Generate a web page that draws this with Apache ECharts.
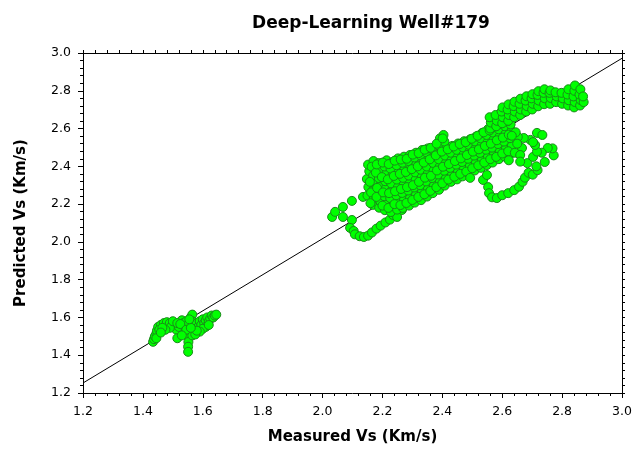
<!DOCTYPE html>
<html><head><meta charset="utf-8">
<script src="https://cdn.jsdelivr.net/npm/echarts@6/dist/echarts.min.js"></script>
<style>html,body{margin:0;padding:0;background:#fff}#c{width:644px;height:452px}</style>
</head><body><div id="c"></div>
<script>
const titleText = 'Deep-Learning Well#179';
const xName = 'Measured Vs (Km/s)';
const yName = 'Predicted Vs (Km/s)';
const axisMin = 1.2, axisMax = 3.0, axisStep = 0.2;
const fitLineX = [1.2, 3.0];
const fitLineY = [1.253, 2.972];

const lowCluster = [
[1.434,1.471],[1.437,1.485],[1.440,1.500],[1.445,1.515],[1.447,1.530],[1.451,1.550],[1.460,1.560],[1.470,1.570],
[1.480,1.575],[1.490,1.570],[1.500,1.565],[1.505,1.550],[1.512,1.535],[1.520,1.550],[1.530,1.585],[1.535,1.570],
[1.540,1.550],[1.545,1.580],[1.550,1.560],[1.552,1.520],[1.553,1.495],[1.552,1.470],[1.551,1.445],[1.551,1.418],
[1.560,1.600],[1.565,1.615],[1.565,1.580],[1.570,1.550],[1.575,1.530],[1.580,1.570],[1.585,1.550],[1.590,1.580],
[1.595,1.560],[1.600,1.590],[1.605,1.570],[1.610,1.585],[1.615,1.600],[1.620,1.580],[1.625,1.595],[1.630,1.610],
[1.635,1.600],[1.640,1.610],[1.645,1.615],[1.610,1.550],[1.600,1.540],[1.590,1.525],[1.620,1.560],[1.565,1.505],
[1.575,1.510],[1.580,1.530],[1.490,1.545],[1.475,1.535],[1.455,1.535],[1.465,1.545],[1.445,1.490],[1.460,1.520],
[1.500,1.580],[1.515,1.570],[1.525,1.565],[1.545,1.535],[1.560,1.545],[1.555,1.590],[1.515,1.490],[1.530,1.505]
];

const isolatedLeft = [
[2.032,2.132],[2.042,2.159],[2.068,2.185],[2.068,2.132],[2.098,2.217],[2.135,2.238]
];

const lowerLoop = [
[2.098,2.116],[2.092,2.074],[2.104,2.058],[2.108,2.040],[2.124,2.030],[2.138,2.026],[2.152,2.033],[2.165,2.050],
[2.180,2.070],[2.194,2.086],[2.210,2.103],[2.225,2.118],[2.235,2.143],[2.242,2.166],[2.265,2.169],[2.249,2.132]
];

const mainBand = [
[2.150,2.245],[2.153,2.290],[2.148,2.333],[2.156,2.374],[2.152,2.409],
[2.168,2.196],[2.171,2.229],[2.166,2.269],[2.173,2.312],[2.169,2.351],[2.174,2.392],[2.170,2.428],
[2.189,2.181],[2.193,2.215],[2.186,2.254],[2.191,2.297],[2.188,2.338],[2.194,2.380],[2.187,2.417],
[2.208,2.168],[2.212,2.204],[2.206,2.242],[2.211,2.281],[2.209,2.321],[2.213,2.362],[2.207,2.399],[2.214,2.432],
[2.228,2.158],[2.232,2.193],[2.226,2.232],[2.231,2.272],[2.229,2.310],[2.233,2.351],[2.227,2.388],[2.232,2.421],
[2.249,2.171],[2.252,2.209],[2.246,2.247],[2.251,2.288],[2.248,2.330],[2.253,2.367],[2.247,2.406],[2.252,2.442],
[2.268,2.180],[2.272,2.221],[2.266,2.259],[2.271,2.301],[2.269,2.339],[2.273,2.380],[2.267,2.419],[2.272,2.451],
[2.289,2.192],[2.292,2.231],[2.286,2.272],[2.291,2.309],[2.288,2.351],[2.293,2.389],[2.287,2.428],[2.292,2.460],
[2.308,2.208],[2.312,2.249],[2.306,2.288],[2.311,2.329],[2.309,2.368],[2.313,2.409],[2.307,2.447],[2.312,2.472],
[2.329,2.221],[2.332,2.262],[2.326,2.300],[2.331,2.341],[2.328,2.382],[2.333,2.421],[2.327,2.458],[2.332,2.486],
[2.349,2.240],[2.352,2.279],[2.346,2.320],[2.351,2.361],[2.348,2.399],[2.353,2.438],[2.347,2.474],[2.352,2.495],
[2.368,2.258],[2.372,2.298],[2.366,2.338],[2.371,2.377],[2.369,2.418],[2.373,2.457],[2.367,2.492],
[2.389,2.276],[2.392,2.318],[2.386,2.357],[2.391,2.398],[2.388,2.437],[2.393,2.478],[2.387,2.512],[2.392,2.548],
[2.408,2.298],[2.412,2.336],[2.406,2.377],[2.411,2.416],[2.409,2.457],[2.413,2.495],[2.407,2.531],[2.404,2.566],
[2.429,2.318],[2.432,2.352],[2.426,2.392],[2.431,2.433],[2.428,2.472],[2.433,2.508],
[2.449,2.331],[2.452,2.369],[2.446,2.409],[2.451,2.448],[2.448,2.487],[2.453,2.521],
[2.468,2.347],[2.472,2.384],[2.466,2.423],[2.471,2.462],[2.469,2.500],[2.473,2.533],
[2.489,2.361],[2.492,2.401],[2.486,2.440],[2.491,2.478],[2.488,2.514],[2.493,2.543],
[2.508,2.378],[2.512,2.418],[2.506,2.457],[2.511,2.496],[2.509,2.532],[2.513,2.558],
[2.529,2.392],[2.532,2.431],[2.526,2.471],[2.531,2.510],[2.528,2.548],[2.533,2.577],
[2.549,2.407],[2.552,2.448],[2.546,2.488],[2.551,2.527],[2.548,2.566],[2.553,2.597],
[2.568,2.420],[2.572,2.461],[2.566,2.499],[2.571,2.540],[2.569,2.579],[2.573,2.609],
[2.589,2.438],[2.592,2.477],[2.586,2.518],[2.591,2.557],[2.588,2.596],[2.593,2.624],
[2.608,2.452],[2.612,2.492],[2.606,2.531],[2.611,2.572],[2.609,2.612],[2.613,2.638],
[2.629,2.468],[2.632,2.508],[2.626,2.549],[2.631,2.588],[2.628,2.622]
];

const bandFill = [
[2.160,2.205],[2.162,2.262],[2.158,2.318],[2.164,2.398],
[2.180,2.238],[2.182,2.286],[2.178,2.367],[2.181,2.410],
[2.200,2.192],[2.202,2.262],[2.198,2.343],[2.201,2.420],
[2.220,2.180],[2.222,2.258],[2.218,2.331],[2.221,2.412],
[2.240,2.200],[2.242,2.268],[2.238,2.349],[2.241,2.430],
[2.260,2.195],[2.262,2.280],[2.258,2.360],[2.261,2.436],
[2.280,2.206],[2.282,2.290],[2.278,2.370],[2.281,2.440],
[2.300,2.222],[2.302,2.300],[2.298,2.385],[2.301,2.462],
[2.320,2.238],[2.322,2.318],[2.318,2.400],[2.321,2.470],
[2.340,2.252],[2.342,2.340],[2.338,2.420],[2.341,2.488],
[2.360,2.270],[2.362,2.350],[2.358,2.437],[2.361,2.498],
[2.380,2.290],[2.382,2.378],[2.378,2.458],[2.381,2.520],
[2.400,2.310],[2.402,2.398],[2.398,2.478],[2.401,2.548],
[2.420,2.330],[2.422,2.412],[2.418,2.490],
[2.440,2.345],[2.442,2.428],[2.438,2.505],
[2.460,2.360],[2.462,2.442],[2.458,2.518],
[2.480,2.372],[2.482,2.460],[2.478,2.528],
[2.500,2.390],[2.502,2.478],[2.498,2.546],
[2.520,2.405],[2.522,2.490],[2.518,2.562],
[2.540,2.420],[2.542,2.508],[2.538,2.580],
[2.560,2.438],[2.562,2.520],[2.558,2.590],
[2.580,2.450],[2.582,2.538],[2.578,2.612],
[2.600,2.468],[2.602,2.552],[2.598,2.628],
[2.620,2.480],[2.622,2.568],[2.618,2.640]
];

const rightArc = [
[2.493,2.339],[2.536,2.328],[2.549,2.354],[2.553,2.290],[2.556,2.258],[2.566,2.236],[2.582,2.232],[2.600,2.247],
[2.620,2.258],[2.640,2.274],[2.656,2.292],[2.668,2.318],[2.676,2.340],[2.688,2.366],[2.702,2.356],[2.718,2.380],
[2.684,2.417],[2.714,2.400],[2.742,2.423],[2.772,2.458],[2.768,2.495],[2.752,2.497],[2.732,2.472],[2.703,2.450],
[2.716,2.478],[2.710,2.513],[2.694,2.540],[2.672,2.550],[2.652,2.556],[2.703,2.528],[2.716,2.577],[2.734,2.566],
[2.666,2.497],[2.642,2.472],[2.650,2.520],[2.660,2.460],[2.645,2.580],[2.632,2.562],[2.622,2.432],[2.660,2.425]
];

const upperStrip = [
[2.560,2.600],[2.562,2.632],[2.558,2.660],
[2.580,2.612],[2.582,2.641],[2.578,2.672],
[2.600,2.628],[2.602,2.660],[2.598,2.690],[2.601,2.712],
[2.620,2.641],[2.622,2.672],[2.618,2.701],[2.621,2.728],
[2.640,2.660],[2.642,2.690],[2.638,2.719],[2.641,2.742],
[2.660,2.672],[2.662,2.701],[2.658,2.731],[2.661,2.758],
[2.680,2.690],[2.682,2.719],[2.678,2.748],[2.681,2.771],
[2.700,2.701],[2.702,2.731],[2.698,2.760],[2.701,2.782],
[2.720,2.718],[2.722,2.748],[2.718,2.778],[2.721,2.798],
[2.740,2.729],[2.742,2.760],[2.738,2.789],[2.741,2.808],
[2.760,2.731],[2.762,2.762],[2.758,2.789],[2.761,2.802],
[2.780,2.740],[2.782,2.770],[2.778,2.792],
[2.800,2.731],[2.802,2.760],[2.798,2.789],
[2.820,2.722],[2.822,2.750],[2.818,2.780],[2.821,2.808],
[2.840,2.712],[2.842,2.741],[2.838,2.770],[2.841,2.800],[2.843,2.828],
[2.860,2.722],[2.862,2.751],[2.858,2.780],[2.861,2.808],
[2.872,2.740],[2.870,2.770]
];

const scatterData = [].concat(lowCluster, isolatedLeft, lowerLoop, mainBand, bandFill, rightArc, upperStrip);
const lineData = fitLineX.map((x, i) => [x, fitLineY[i]]);

const chart = echarts.init(document.getElementById('c'), null, {renderer: 'canvas'});
const FONT = 'DejaVu Sans';
function frameAxis(pos, showLabel, tickLen, minorLen) {
  return {
    type: 'value', min: axisMin, max: axisMax, interval: axisStep, position: pos,
    axisLine: {show: true, onZero: false, lineStyle: {color: '#000', width: 1}},
    axisTick: {show: true, inside: false, length: tickLen, lineStyle: {color: '#000', width: 1}},
    minorTick: {show: true, splitNumber: 5, length: minorLen, lineStyle: {color: '#000', width: 1}},
    axisLabel: {show: showLabel, margin: 12, fontFamily: FONT, fontSize: 12.5, color: '#000',
      formatter: v => Number(v).toFixed(1)},
    splitLine: {show: false}, minorSplitLine: {show: false}
  };
}
const xBottom = frameAxis('bottom', true, 5, 3);
xBottom.name = xName; xBottom.nameLocation = 'middle'; xBottom.nameGap = 37;
xBottom.nameTextStyle = {fontFamily: FONT, fontWeight: 'bold', fontSize: 15, color: '#000'};
const yLeft = frameAxis('left', true, 5, 3);
yLeft.name = yName; yLeft.nameLocation = 'middle'; yLeft.nameGap = 54;
yLeft.nameTextStyle = {fontFamily: FONT, fontWeight: 'bold', fontSize: 15, color: '#000'};

chart.setOption({
  animation: false,
  backgroundColor: '#fff',
  title: {text: titleText, left: 366, top: 10, textAlign: 'center',
    textStyle: {fontFamily: FONT, fontWeight: 'bold', fontSize: 17, color: '#000'}},
  grid: {left: 83, right: 22, top: 53, bottom: 59, containLabel: false},
  xAxis: [xBottom, frameAxis('top', false, 3, 3)],
  yAxis: [yLeft, frameAxis('right', false, 3, 3)],
  series: [
    {type: 'line', data: lineData, xAxisIndex: 0, yAxisIndex: 0, showSymbol: false, symbol: 'none',
     lineStyle: {color: '#000', width: 1}, z: 1, silent: true},
    {type: 'scatter', data: scatterData, xAxisIndex: 0, yAxisIndex: 0, symbol: 'circle', symbolSize: 9,
     itemStyle: {color: '#00ff00', borderColor: '#1a8a1a', borderWidth: 1, opacity: 1}, z: 2, silent: true}
  ]
});
</script></body></html>
